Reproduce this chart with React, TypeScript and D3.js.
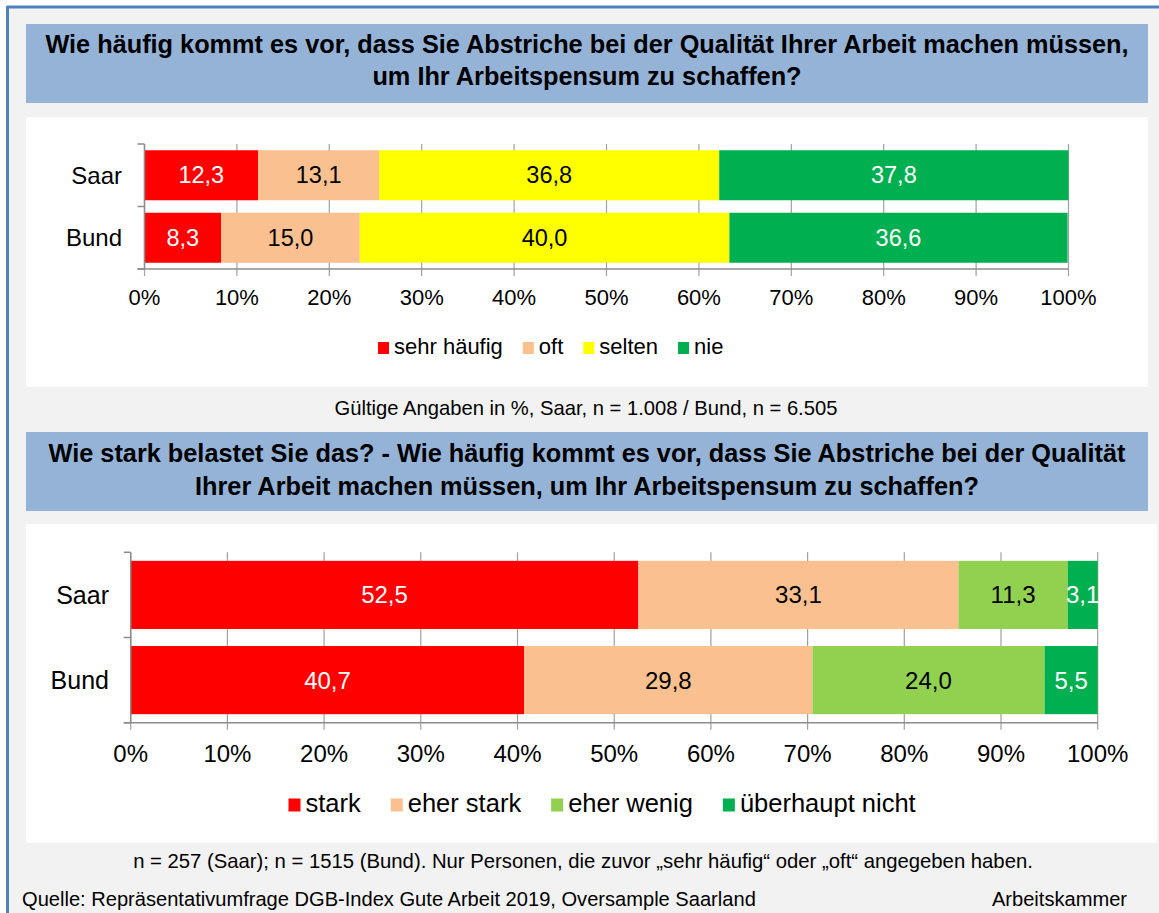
import React from "react";
import * as d3 from "d3";

const W = 1159;
const H = 913;
const FONT = "'Liberation Sans', Arial, sans-serif";

// chart 1
const categories1 = ["Saar", "Bund"];
const keys1 = ["sehr häufig", "oft", "selten", "nie"];
const colors1 = ["#FF0000", "#FAC090", "#FFFF00", "#00B050"];
const labelColors1 = ["#FFFFFF", "#000000", "#000000", "#FFFFFF"];
const saar1 = [12.3, 13.1, 36.8, 37.8];
const bund1 = [8.3, 15.0, 40.0, 36.6];

// chart 2
const categories2 = ["Saar", "Bund"];
const keys2 = ["stark", "eher stark", "eher wenig", "überhaupt nicht"];
const colors2 = ["#FF0000", "#FAC090", "#92D050", "#00B050"];
const labelColors2 = ["#FFFFFF", "#000000", "#000000", "#FFFFFF"];
const saar2 = [52.5, 33.1, 11.3, 3.1];
const bund2 = [40.7, 29.8, 24.0, 5.5];

const ticks = [0, 10, 20, 30, 40, 50, 60, 70, 80, 90, 100];

const title1 = [
  "Wie häufig kommt es vor, dass Sie Abstriche bei der Qualität Ihrer Arbeit machen müssen,",
  "um Ihr Arbeitspensum zu schaffen?",
];
const title2 = [
  "Wie stark belastet Sie das? - Wie häufig kommt es vor, dass Sie Abstriche bei der Qualität",
  "Ihrer Arbeit machen müssen, um Ihr Arbeitspensum zu schaffen?",
];
const note1 = "Gültige Angaben in %, Saar, n = 1.008 / Bund, n = 6.505";
const note2 =
  "n = 257 (Saar); n = 1515 (Bund). Nur Personen, die zuvor „sehr häufig“ oder „oft“ angegeben haben.";
const source = "Quelle: Repräsentativumfrage DGB-Index Gute Arbeit 2019, Oversample Saarland";
const brand = "Arbeitskammer";

const fmt = (v: number) => v.toFixed(1).replace(".", ",");

let ctx: CanvasRenderingContext2D | null = null;
function textWidth(s: string, size: number) {
  if (!ctx) ctx = document.createElement("canvas").getContext("2d");
  if (!ctx) return s.length * size * 0.5;
  ctx.font = `${size}px 'Liberation Sans', Arial, sans-serif`;
  return ctx.measureText(s).width;
}

type ChartProps = {
  categories: string[];
  keys: string[];
  colors: string[];
  labelColors: string[];
  rows: number[][];
  x0: number;
  x1: number;
  y0: number;
  y1: number;
  catSize: number;
  tickSize: number;
  tickDy: number;
  labelSize: number;
  catRight: number;
  legendX: number;
  legendY: number;
  legendSize: number;
  legendGap: number;
  swatch: number;
};

function StackedChart(p: ChartProps) {
  const x = d3.scaleLinear().domain([0, 100]).range([p.x0, p.x1]);
  const y = d3
    .scaleBand()
    .domain(p.categories)
    .range([p.y0, p.y1])
    .paddingInner(0.2)
    .paddingOuter(0.1);

  const table = p.categories.map((c, i) => {
    const o: any = { cat: c };
    p.keys.forEach((k, j) => (o[k] = p.rows[i][j]));
    return o;
  });
  const stacked = d3.stack<any>().keys(p.keys)(table);
  const bw = y.bandwidth();
  const step = y.step();
  const boundaries = [p.y0, p.y0 + step, p.y1];

  // legend layout
  let cx = p.legendX;
  const legendItems = p.keys.map((k, i) => {
    const item = { k, i, x: cx };
    cx += p.swatch + 5 + textWidth(k, p.legendSize) + p.legendGap;
    return item;
  });

  return (
    <g>
      {ticks.map((t) => (
        <line
          key={"g" + t}
          x1={x(t)}
          x2={x(t)}
          y1={p.y0}
          y2={p.y1 + 7}
          stroke="#A0A0A0"
          strokeWidth={1.2}
        />
      ))}
      {stacked.map((layer, j) =>
        layer.map((d, i) => (
          <rect
            key={layer.key + i}
            x={x(d[0])}
            width={x(d[1]) - x(d[0])}
            y={y(p.categories[i])}
            height={bw}
            fill={p.colors[j]}
          />
        ))
      )}
      {stacked.map((layer, j) =>
        layer.map((d, i) => (
          <text
            key={"l" + layer.key + i}
            x={(x(d[0]) + x(d[1])) / 2}
            y={(y(p.categories[i]) as number) + bw / 2 + p.labelSize * 0.35}
            textAnchor="middle"
            fontSize={p.labelSize}
            fill={p.labelColors[j]}
          >
            {fmt(d[1] - d[0])}
          </text>
        ))
      )}
      <line x1={p.x0} x2={p.x0} y1={p.y0} y2={p.y1} stroke="#8C8C8C" strokeWidth={1.5} />
      <line x1={p.x0 - 7} x2={p.x1} y1={p.y1} y2={p.y1} stroke="#8C8C8C" strokeWidth={1.5} />
      {boundaries.map((b, i) => (
        <line key={"yt" + i} x1={p.x0 - 7} x2={p.x0} y1={b} y2={b} stroke="#8C8C8C" strokeWidth={1.5} />
      ))}
      {ticks.map((t) => (
        <text
          key={"t" + t}
          x={x(t)}
          y={p.y1 + p.tickDy}
          textAnchor="middle"
          fontSize={p.tickSize}
          fill="#000"
        >
          {t + "%"}
        </text>
      ))}
      {p.categories.map((c) => (
        <text
          key={"c" + c}
          x={p.catRight}
          y={(y(c) as number) + bw / 2 + p.catSize * 0.35}
          textAnchor="end"
          fontSize={p.catSize}
          fill="#000"
        >
          {c}
        </text>
      ))}
      {legendItems.map((it) => (
        <g key={"lg" + it.k}>
          <rect
            x={it.x}
            y={p.legendY - p.swatch}
            width={p.swatch}
            height={p.swatch + 1}
            fill={p.colors[it.i]}
          />
          <text x={it.x + p.swatch + 5} y={p.legendY + 1} fontSize={p.legendSize} fill="#000">
            {it.k}
          </text>
        </g>
      ))}
    </g>
  );
}

export default function App() {
  return (
    <svg
      width={W}
      height={H}
      viewBox={`0 0 ${W} ${H}`}
      style={{ position: "absolute", left: 0, top: 0, fontFamily: FONT }}
    >
      <rect x={0} y={0} width={W} height={H} fill="#FFFFFF" />
      <rect x={8} y={8} width={W - 8} height={H - 8} fill="#F2F2F2" />
      <line x1={7} x2={W} y1={7} y2={7} stroke="#4F81BD" strokeWidth={3} />
      <line x1={7.5} x2={7.5} y1={6} y2={H} stroke="#4F81BD" strokeWidth={3} />

      {/* title 1 */}
      <rect x={26} y={24} width={1122} height={79} fill="#95B3D7" />
      {title1.map((t, i) => (
        <text key={"t1" + i} x={587} y={53 + i * 32} textAnchor="middle" fontSize={25.3} fontWeight="bold" fill="#000">
          {t}
        </text>
      ))}
      <rect x={26} y={117} width={1122} height={270} fill="#FFFFFF" />
      <StackedChart
        categories={categories1}
        keys={keys1}
        colors={colors1}
        labelColors={labelColors1}
        rows={[saar1, bund1]}
        x0={144.5}
        x1={1068.5}
        y0={144}
        y1={269}
        catSize={24}
        tickSize={22}
        tickDy={36}
        labelSize={23.5}
        catRight={122}
        legendX={378}
        legendY={353}
        legendSize={22}
        legendGap={20}
        swatch={11}
      />
      <text x={586} y={415} textAnchor="middle" fontSize={20.2} fill="#000">
        {note1}
      </text>

      {/* title 2 */}
      <rect x={26} y={432} width={1122} height={79} fill="#95B3D7" />
      {title2.map((t, i) => (
        <text key={"t2" + i} x={587} y={461.5 + i * 33} textAnchor="middle" fontSize={25.3} fontWeight="bold" fill="#000">
          {t}
        </text>
      ))}
      <rect x={26} y={524} width={1131} height={319} fill="#FFFFFF" />
      <StackedChart
        categories={categories2}
        keys={keys2}
        colors={colors2}
        labelColors={labelColors2}
        rows={[saar2, bund2]}
        x0={130.7}
        x1={1097.7}
        y0={552.3}
        y1={722.7}
        catSize={25}
        tickSize={24}
        tickDy={39}
        labelSize={24}
        catRight={109}
        legendX={288.5}
        legendY={810.5}
        legendSize={25.5}
        legendGap={30}
        swatch={12}
      />
      <text x={583} y={868} textAnchor="middle" fontSize={20.3} fill="#000">
        {note2}
      </text>
      <text x={22} y={906} fontSize={20.1} fill="#000">
        {source}
      </text>
      <text x={1127} y={906} textAnchor="end" fontSize={20.1} fill="#000">
        {brand}
      </text>
    </svg>
  );
}
